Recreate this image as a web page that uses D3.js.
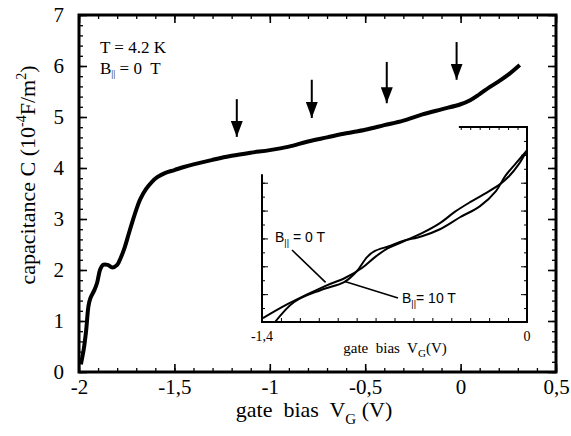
<!DOCTYPE html>
<html>
<head>
<meta charset="utf-8">
<script src="https://cdn.jsdelivr.net/npm/d3@7"></script>
<style>
  body { margin: 0; background: #fff; }
  svg { display: block; }
  text { white-space: pre; fill: #000; }
</style>
</head>
<body>
<div id="chart"></div>
<script>
// main trace, B = 0 T
var mainV = [-1.99, -1.975, -1.963, -1.95, -1.94, -1.92, -1.905, -1.89, -1.875, -1.85, -1.825, -1.80, -1.78, -1.76, -1.74, -1.72, -1.70, -1.68, -1.65, -1.62, -1.59, -1.55, -1.5, -1.45, -1.4, -1.3, -1.2, -1.1, -1.0, -0.9, -0.8, -0.7, -0.6, -0.5, -0.4, -0.3, -0.2, -0.1, 0.0, 0.05, 0.1, 0.15, 0.2, 0.25, 0.31];
var mainC = [0.15, 0.45, 0.8, 1.3, 1.45, 1.6, 1.75, 2.0, 2.1, 2.1, 2.05, 2.1, 2.25, 2.45, 2.7, 2.95, 3.18, 3.38, 3.58, 3.72, 3.82, 3.9, 3.96, 4.02, 4.07, 4.16, 4.24, 4.3, 4.35, 4.42, 4.52, 4.6, 4.68, 4.75, 4.84, 4.93, 5.05, 5.15, 5.25, 5.33, 5.45, 5.58, 5.7, 5.83, 6.02];

// arrows (x position, top and tip in C units)
var arrowV = [-1.173, -0.78, -0.387, -0.021];
var arrowTop = [5.35, 5.73, 6.08, 6.47];
var arrowTip = [4.61, 4.98, 5.27, 5.73];

// inset traces (arbitrary y units 0..7)
var insetV0 = [-1.395, -1.263, -1.067, -0.962, -0.872, -0.803, -0.734, -0.660, -0.555, -0.460, -0.380, -0.301, -0.227, -0.142, -0.095, -0.047, 0.0];
var insetC0 = [0.14, 0.65, 1.29, 1.58, 1.94, 2.33, 2.65, 2.87, 3.19, 3.55, 3.96, 4.30, 4.59, 4.95, 5.23, 5.63, 6.16];
var insetV10 = [-1.331, -1.230, -1.088, -0.966, -0.898, -0.845, -0.803, -0.729, -0.660, -0.555, -0.460, -0.354, -0.248, -0.164, -0.116, -0.058, 0.0];
var insetC10 = [0.0, 0.72, 1.15, 1.43, 1.83, 2.33, 2.55, 2.72, 2.90, 3.08, 3.33, 3.76, 4.16, 4.70, 5.23, 5.70, 6.16];

var xTicks = [-2, -1.5, -1, -0.5, 0, 0.5];
var xTickLabels = ["-2", "-1,5", "-1", "-0,5", "0", "0,5"];
var yTicks = [0, 1, 2, 3, 4, 5, 6, 7];

var svg = d3.select("#chart").append("svg")
    .attr("width", 571)
    .attr("height", 436);

var x = d3.scaleLinear().domain([-2, 0.5]).range([79, 556]);
var y = d3.scaleLinear().domain([0, 7]).range([372, 15]);

var serif = "Liberation Serif, Times New Roman, serif";
var sans = "Liberation Sans, Arial, sans-serif";

var xMinor = d3.range(-2, 0.5001, 0.1).map(d => +d.toFixed(2));
var yMinor = d3.range(0, 7.0001, 0.2).map(d => +d.toFixed(2));

function styleAxis(g, w) {
  g.select(".domain").remove();
  g.selectAll(".tick line").attr("stroke", "#000").attr("stroke-width", w);
}

// bottom
svg.append("g").attr("transform", "translate(0,372)")
  .call(d3.axisBottom(x).tickValues(xMinor).tickSize(-4).tickFormat(""))
  .call(g => styleAxis(g, 1.3));
svg.append("g").attr("transform", "translate(0,372)")
  .call(d3.axisBottom(x).tickValues(xTicks).tickSize(-8).tickPadding(7)
    .tickFormat((d, i) => xTickLabels[i]))
  .call(g => styleAxis(g, 1.6))
  .call(g => g.selectAll("text").attr("font-size", 21).attr("font-family", serif).attr("fill", "#000"));
// top
svg.append("g").attr("transform", "translate(0,15)")
  .call(d3.axisTop(x).tickValues(xMinor).tickSize(-4).tickFormat(""))
  .call(g => styleAxis(g, 1.3));
svg.append("g").attr("transform", "translate(0,15)")
  .call(d3.axisTop(x).tickValues(xTicks).tickSize(-8).tickFormat(""))
  .call(g => styleAxis(g, 1.6));
// left
svg.append("g").attr("transform", "translate(79,0)")
  .call(d3.axisLeft(y).tickValues(yMinor).tickSize(-4).tickFormat(""))
  .call(g => styleAxis(g, 1.3));
svg.append("g").attr("transform", "translate(79,0)")
  .call(d3.axisLeft(y).tickValues(yTicks).tickSize(-8).tickPadding(15).tickFormat(d3.format("d")))
  .call(g => styleAxis(g, 1.6))
  .call(g => g.selectAll("text").attr("font-size", 21).attr("font-family", serif).attr("fill", "#000"));
// right
svg.append("g").attr("transform", "translate(556,0)")
  .call(d3.axisRight(y).tickValues(yMinor).tickSize(-4).tickFormat(""))
  .call(g => styleAxis(g, 1.3));
svg.append("g").attr("transform", "translate(556,0)")
  .call(d3.axisRight(y).tickValues(yTicks).tickSize(-8).tickFormat(""))
  .call(g => styleAxis(g, 1.6));

// frame
svg.append("rect")
  .attr("x", 79).attr("y", 15).attr("width", 556 - 79).attr("height", 372 - 15)
  .attr("fill", "none").attr("stroke", "#000").attr("stroke-width", 3);

// main curve
var mainData = mainV.map((v, i) => [v, mainC[i]]);
svg.append("path")
  .datum(mainData)
  .attr("d", d3.line().x(d => x(d[0])).y(d => y(d[1])).curve(d3.curveCatmullRom))
  .attr("fill", "none").attr("stroke", "#000").attr("stroke-width", 4)
  .attr("stroke-linejoin", "round");

// arrows
svg.append("defs").append("marker")
  .attr("id", "ah").attr("viewBox", "0 0 16 12")
  .attr("refX", 16).attr("refY", 6)
  .attr("markerWidth", 16).attr("markerHeight", 12)
  .attr("markerUnits", "userSpaceOnUse")
  .attr("orient", "auto")
  .append("path").attr("d", "M0,0 L16,6 L0,12 Z").attr("fill", "#000");
arrowV.forEach(function(v, i) {
  svg.append("line")
    .attr("x1", x(v)).attr("x2", x(v))
    .attr("y1", y(arrowTop[i])).attr("y2", y(arrowTip[i]))
    .attr("stroke", "#000").attr("stroke-width", 2)
    .attr("marker-end", "url(#ah)");
});

// annotation
svg.append("text").attr("x", 100).attr("y", 53)
  .attr("font-family", serif).attr("font-size", 17).text("T = 4.2 K");
var t2 = svg.append("text").attr("x", 100).attr("y", 74)
  .attr("font-family", serif).attr("font-size", 17);
t2.append("tspan").text("B");
t2.append("tspan").attr("font-size", 10).attr("dy", 3).text("||");
t2.append("tspan").attr("dy", -3).text(" = 0  T");

// axis titles
var xt = svg.append("text").attr("x", 314).attr("y", 417).attr("text-anchor", "middle")
  .attr("font-family", serif).attr("font-size", 22);
xt.append("tspan").text("gate  bias  V");
xt.append("tspan").attr("font-size", 15).attr("dy", 7).text("G");
xt.append("tspan").attr("dy", -7).text(" (V)");

var yt = svg.append("text").attr("transform", "translate(35,175) rotate(-90)").attr("text-anchor", "middle")
  .attr("font-family", serif).attr("font-size", 22);
yt.append("tspan").text("capacitance C (10");
yt.append("tspan").attr("font-size", 14).attr("dy", -9).text("-4");
yt.append("tspan").attr("dy", 9).text("F/m");
yt.append("tspan").attr("font-size", 14).attr("dy", -9).text("2");
yt.append("tspan").attr("dy", 9).text(")");

// ---- inset ----
var ix = d3.scaleLinear().domain([-1.4, 0]).range([262, 527]);
var iy = d3.scaleLinear().domain([0, 7]).range([322, 127]);
var ixMinor = d3.range(-1.4, 0.0001, 0.1).map(d => +d.toFixed(2));
var ixTop = d3.range(-0.35, 0.0001, 0.05).map(d => +d.toFixed(3));
var iyMinor = d3.range(0, 7.0001, 0.5).map(d => +d.toFixed(1));
var iyMajor = d3.range(0, 8, 1);
var iyLeft = iyMinor.filter(d => d <= 5.3);
var iyLeftMajor = iyMajor.filter(d => d <= 5.3);

var inset = svg.append("g");
inset.append("g").attr("transform", "translate(0,322)")
  .call(d3.axisBottom(ix).tickValues(ixMinor).tickSize(-4).tickFormat(""))
  .call(g => styleAxis(g, 1));
inset.append("g").attr("transform", "translate(0,127)")
  .call(d3.axisTop(ix).tickValues(ixTop).tickSize(-3).tickFormat(""))
  .call(g => styleAxis(g, 1));
inset.append("g").attr("transform", "translate(262,0)")
  .call(d3.axisLeft(iy).tickValues(iyLeft).tickSize(-3).tickFormat(""))
  .call(g => styleAxis(g, 1));
inset.append("g").attr("transform", "translate(262,0)")
  .call(d3.axisLeft(iy).tickValues(iyLeftMajor).tickSize(-6).tickFormat(""))
  .call(g => styleAxis(g, 1));
inset.append("g").attr("transform", "translate(527,0)")
  .call(d3.axisRight(iy).tickValues(iyMinor).tickSize(-3).tickFormat(""))
  .call(g => styleAxis(g, 1));
inset.append("g").attr("transform", "translate(527,0)")
  .call(d3.axisRight(iy).tickValues(iyMajor).tickSize(-6).tickFormat(""))
  .call(g => styleAxis(g, 1));

// partial frame of the inset
inset.append("path")
  .attr("d", `M${ix(-1.4)},${iy(5.3)} V${iy(0)} H${ix(0)} V${iy(7)} H${ix(-0.36)}`)
  .attr("fill", "none").attr("stroke", "#000").attr("stroke-width", 2);

var iline = d3.line().x(d => ix(d[0])).y(d => iy(d[1])).curve(d3.curveCatmullRom);
[[insetV0, insetC0], [insetV10, insetC10]].forEach(function(s) {
  inset.append("path")
    .datum(s[0].map((v, i) => [v, s[1][i]]))
    .attr("d", iline)
    .attr("fill", "none").attr("stroke", "#000").attr("stroke-width", 2);
});

inset.append("text").attr("x", ix(-1.4)).attr("y", 341).attr("text-anchor", "middle")
  .attr("font-family", serif).attr("font-size", 14).text("-1,4");
inset.append("text").attr("x", ix(0)).attr("y", 341).attr("text-anchor", "middle")
  .attr("font-family", serif).attr("font-size", 14).text("0");
var ixt = inset.append("text").attr("x", 395).attr("y", 353).attr("text-anchor", "middle")
  .attr("font-family", serif).attr("font-size", 15);
ixt.append("tspan").text("gate  bias  V");
ixt.append("tspan").attr("font-size", 11).attr("dy", 4).text("G");
ixt.append("tspan").attr("dy", -4).text("(V)");

// inset labels with leader lines
var l0 = inset.append("text").attr("x", 275).attr("y", 242)
  .attr("font-family", sans).attr("font-size", 14);
l0.append("tspan").text("B");
l0.append("tspan").attr("font-size", 9).attr("dy", 4).text("||");
l0.append("tspan").attr("dy", -4).text(" = 0 T");
var l10 = inset.append("text").attr("x", 402).attr("y", 303)
  .attr("font-family", sans).attr("font-size", 14);
l10.append("tspan").text("B");
l10.append("tspan").attr("font-size", 9).attr("dy", 4).text("||");
l10.append("tspan").attr("dy", -4).text("= 10 T");

inset.append("line").attr("x1", 292).attr("y1", 250).attr("x2", ix(-1.064)).attr("y2", iy(1.42))
  .attr("stroke", "#000").attr("stroke-width", 1.6);
inset.append("line").attr("x1", ix(-0.962)).attr("y1", iy(1.45)).attr("x2", 398).attr("y2", 298)
  .attr("stroke", "#000").attr("stroke-width", 1.6);
</script>
</body>
</html>
